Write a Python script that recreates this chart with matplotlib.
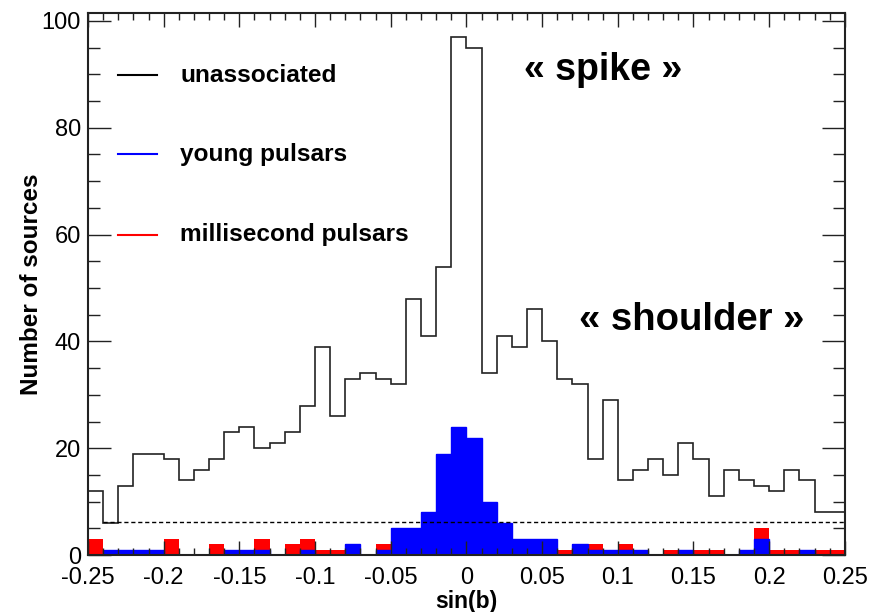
import numpy as np
import matplotlib.pyplot as plt
from matplotlib.ticker import MultipleLocator

plt.rcParams['font.family'] = ['Liberation Sans', 'DejaVu Sans']

# histogram bins: sin(b) from -0.25 to 0.25, width 0.01
edges = np.round(np.linspace(-0.25, 0.25, 51), 3)

unassoc = [12, 6, 13, 19, 19, 18, 14, 16, 18, 23,
           24, 20, 21, 23, 28, 39, 26, 33, 34, 33,
           32, 48, 41, 54, 97, 95, 34, 41, 39, 46,
           40, 33, 32, 18, 29, 14, 16, 18, 15, 21,
           18, 11, 16, 14, 13, 12, 16, 14, 8, 8]

young = [0, 1, 1, 1, 1, 0, 0, 0, 0, 1,
         1, 1, 0, 0, 1, 0, 0, 2, 0, 1,
         5, 5, 8, 19, 24, 22, 10, 6, 3, 3,
         3, 0, 2, 1, 1, 1, 1, 0, 0, 1,
         0, 0, 0, 1, 3, 0, 0, 1, 0, 0]

msp = [3, 0, 0, 0, 0, 3, 0, 0, 2, 0,
       0, 3, 0, 2, 3, 1, 1, 0, 0, 2,
       0, 0, 0, 0, 0, 0, 0, 0, 0, 0,
       0, 1, 0, 2, 0, 2, 0, 0, 1, 0,
       1, 1, 0, 0, 5, 1, 1, 0, 1, 1]

level = 6.1
xticks = [-0.25, -0.2, -0.15, -0.1, -0.05, 0, 0.05, 0.1, 0.15, 0.2, 0.25]
xticklabels = ['-0.25', '-0.2', '-0.15', '-0.1', '-0.05', '0', '0.05', '0.1', '0.15', '0.2', '0.25']
yticks = [0, 20, 40, 60, 80, 100]

fig = plt.figure(figsize=(8.71, 6.12), dpi=100)
ax = fig.add_axes([0.101, 0.093, 0.869, 0.886])

ax.stairs(msp, edges, fill=True, color='#ff0000', lw=0)
ax.stairs(young, edges, fill=True, color='#0000ff', lw=0)
ax.stairs(young, edges, color='#0000ff', lw=1)
ax.stairs(unassoc, edges, color='#222222', lw=1.2)
ax.hlines(level, -0.24, 0.25, colors='black', linestyles=(0, (3, 2)), lw=1)

# legend drawn by hand, like the original
leg = [('unassociated', '#000000', 89.8), ('young pulsars', '#0000ff', 75), ('millisecond pulsars', '#ff0000', 60)]
for name, c, yv in leg:
    ax.plot([-0.230, -0.2045], [yv, yv], color=c, lw=1.5)
    ax.text(-0.189, yv, name, fontsize=17.6, fontweight='bold', va='center', ha='left')

ax.text(0.090, 90.8, '« spike »', fontsize=27, fontweight='bold', ha='center', va='center')
ax.text(0.1487, 44, '« shoulder »', fontsize=27.5, fontweight='bold', ha='center', va='center')

ax.set_xlim(-0.25, 0.25)
ax.set_ylim(0, 101.5)
ax.set_xticks(xticks)
ax.set_xticklabels(xticklabels)
ax.set_yticks(yticks)
ax.xaxis.set_minor_locator(MultipleLocator(0.01))
ax.yaxis.set_minor_locator(MultipleLocator(5))
ax.tick_params(axis='both', which='both', direction='in', top=True, right=True,
               labelsize=17, color='#222222', width=1)
ax.tick_params(axis='x', which='major', length=10, pad=8.5)
ax.tick_params(axis='x', which='minor', length=5)
ax.tick_params(axis='y', which='major', length=16.5, pad=5)
ax.tick_params(axis='y', which='minor', length=8.6)
for s in ax.spines.values():
    s.set_linewidth(1.5)
    s.set_color('#222222')

ax.set_xlabel('sin(b)', fontsize=16.5, fontweight='bold', labelpad=1)
ax.set_ylabel('Number of sources', fontsize=17.5, fontweight='bold', labelpad=-1)

fig.savefig('out.png', dpi=100)
